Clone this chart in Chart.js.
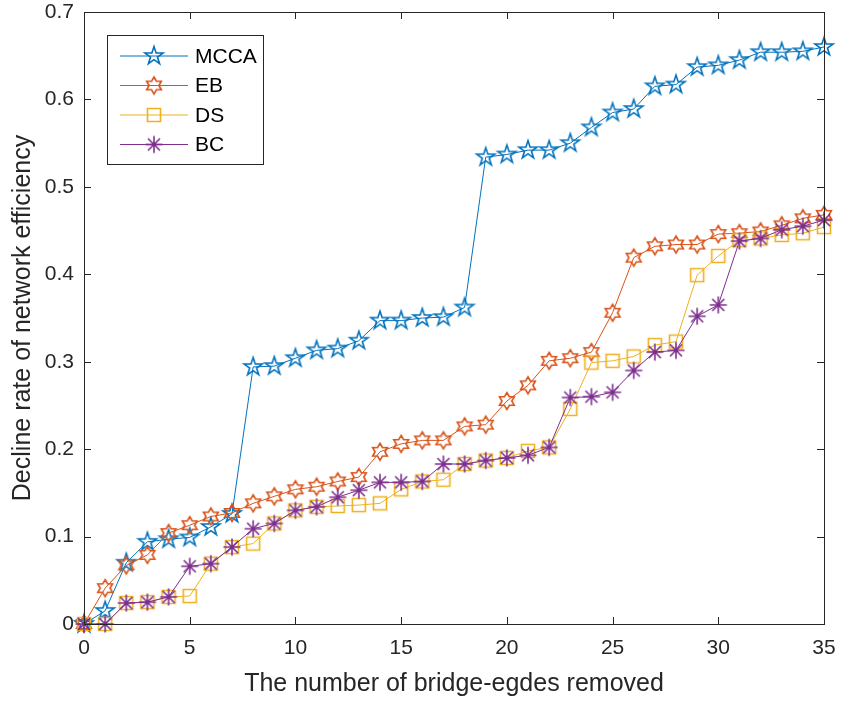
<!DOCTYPE html>
<html>
<head>
<meta charset="utf-8">
<title>Decline rate of network efficiency</title>
<script src="https://cdn.jsdelivr.net/npm/chart.js@4.4.1/dist/chart.umd.min.js"></script>
<style>
    html, body { margin: 0; padding: 0; background: #fff; }
    #wrap { width: 853px; height: 701px; }
</style>
</head>
<body>
<div id="wrap"><canvas id="effChart" width="853" height="701"></canvas></div>
<script>
// Data
const edgesRemoved = [0, 1, 2, 3, 4, 5, 6, 7, 8, 9, 10, 11, 12, 13, 14, 15, 16, 17,
    18, 19, 20, 21, 22, 23, 24, 25, 26, 27, 28, 29, 30, 31, 32, 33, 34, 35];
const mcca = [0, 0.015, 0.070, 0.094, 0.097, 0.099, 0.111, 0.126, 0.294, 0.295, 0.304, 0.313,
    0.315, 0.324, 0.347, 0.347, 0.350, 0.351, 0.362, 0.534, 0.537, 0.542, 0.542, 0.550,
    0.568, 0.585, 0.589, 0.615, 0.617, 0.637, 0.639, 0.645, 0.654, 0.654, 0.655, 0.660];
const eb = [0, 0.041, 0.067, 0.079, 0.104, 0.113, 0.123, 0.127, 0.138, 0.146, 0.154, 0.157,
    0.163, 0.168, 0.197, 0.206, 0.210, 0.210, 0.226, 0.228, 0.255, 0.273, 0.301, 0.304,
    0.311, 0.356, 0.419, 0.432, 0.434, 0.434, 0.446, 0.447, 0.449, 0.456, 0.464, 0.468];
const ds = [0, 0, 0.024, 0.025, 0.031, 0.032, 0.069, 0.088, 0.092, 0.115, 0.130, 0.134,
    0.135, 0.136, 0.138, 0.154, 0.163, 0.165, 0.183, 0.187, 0.190, 0.198, 0.202, 0.246,
    0.299, 0.301, 0.306, 0.319, 0.323, 0.399, 0.421, 0.439, 0.441, 0.445, 0.447, 0.454];
const bc = [0, 0, 0.024, 0.025, 0.031, 0.066, 0.069, 0.088, 0.109, 0.115, 0.130, 0.134,
    0.145, 0.153, 0.162, 0.162, 0.163, 0.183, 0.183, 0.187, 0.190, 0.193, 0.202, 0.259,
    0.260, 0.265, 0.290, 0.311, 0.313, 0.352, 0.365, 0.438, 0.441, 0.451, 0.455, 0.462];
const seriesNames = ['MCCA', 'EB', 'DS', 'BC'];
const xTicks = [0, 5, 10, 15, 20, 25, 30, 35];
const yTicks = [0, 0.1, 0.2, 0.3, 0.4, 0.5, 0.6, 0.7];

const FONT = '"Liberation Sans", Arial, Helvetica, sans-serif';
const AXIS_COLOR = '#262626';

// MATLAB-like marker glyphs drawn on small canvases
function makeMarker(kind, color) {
    const size = 26, m = size / 2;
    const c = document.createElement('canvas');
    c.width = size; c.height = size;
    const ctx = c.getContext('2d');
    ctx.strokeStyle = color;
    ctx.lineWidth = 1.6;
    ctx.lineJoin = 'miter';
    ctx.beginPath();
    if (kind === 'pentagram' || kind === 'hexagram') {
        const pts = kind === 'pentagram' ? 5 : 6;
        const R = kind === 'pentagram' ? 9.5 : 8.5;
        const r = kind === 'pentagram' ? R * 0.382 : R / Math.sqrt(3);
        for (let i = 0; i < pts * 2; i++) {
            const a = -Math.PI / 2 + i * Math.PI / pts;
            const rr = i % 2 === 0 ? R : r;
            const px = m + rr * Math.cos(a), py = m + rr * Math.sin(a);
            if (i === 0) ctx.moveTo(px, py); else ctx.lineTo(px, py);
        }
        ctx.closePath();
    } else if (kind === 'square') {
        ctx.rect(m - 6.5, m - 6.5, 13, 13);
    } else {
        const R = 8.5;
        for (let k = 0; k < 4; k++) {
            const a = k * Math.PI / 4;
            ctx.moveTo(m - R * Math.cos(a), m - R * Math.sin(a));
            ctx.lineTo(m + R * Math.cos(a), m + R * Math.sin(a));
        }
    }
    ctx.stroke();
    return c;
}

const colors = ['#0072BD', '#D95319', '#EDB120', '#7E2F8E'];
const markers = [
    makeMarker('pentagram', colors[0]),
    makeMarker('hexagram', colors[1]),
    makeMarker('square', colors[2]),
    makeMarker('asterisk', colors[3])
];
const values = [mcca, eb, ds, bc];

const datasets = seriesNames.map((name, i) => ({
    label: name,
    data: edgesRemoved.map((x, j) => ({ x: x, y: values[i][j] })),
    borderColor: colors[i],
    backgroundColor: colors[i],
    borderWidth: 1,
    pointStyle: markers[i],
    tension: 0,
    fill: false,
    clip: false,
    order: 3 - i
}));

// Box round the plot with inward ticks, like MATLAB
const boxPlugin = {
    id: 'box',
    afterDatasetsDraw(chart) {
        const { ctx, chartArea: a, scales } = chart;
        ctx.save();
        ctx.strokeStyle = AXIS_COLOR;
        ctx.lineWidth = 1;
        ctx.strokeRect(a.left + 0.5, a.top + 0.5, a.right - a.left, a.bottom - a.top);
        ctx.beginPath();
        const len = 7;
        xTicks.forEach(v => {
            const px = Math.round(scales.x.getPixelForValue(v)) + 0.5;
            ctx.moveTo(px, a.bottom); ctx.lineTo(px, a.bottom - len);
            ctx.moveTo(px, a.top); ctx.lineTo(px, a.top + len);
        });
        yTicks.forEach(v => {
            const py = Math.round(scales.y.getPixelForValue(v)) + 0.5;
            ctx.moveTo(a.left, py); ctx.lineTo(a.left + len, py);
            ctx.moveTo(a.right, py); ctx.lineTo(a.right - len, py);
        });
        ctx.stroke();
        ctx.restore();
    },
    afterDraw(chart) {
        // legend box in the upper left of the plot
        const ctx = chart.ctx;
        const bx = 107, by = 35, bw = 156, bh = 129;
        ctx.save();
        ctx.fillStyle = '#fff';
        ctx.fillRect(bx, by, bw, bh);
        ctx.strokeStyle = AXIS_COLOR;
        ctx.lineWidth = 1;
        ctx.strokeRect(bx + 0.5, by + 0.5, bw, bh);
        ctx.font = '21px ' + FONT;
        ctx.textBaseline = 'middle';
        ctx.fillStyle = '#000';
        seriesNames.forEach((name, i) => {
            const y = by + 21 + i * 29.5;
            ctx.strokeStyle = colors[i];
            ctx.lineWidth = 1;
            ctx.beginPath();
            ctx.moveTo(120, y); ctx.lineTo(188, y);
            ctx.stroke();
            ctx.drawImage(markers[i], 154 - markers[i].width / 2, y - markers[i].height / 2);
            ctx.fillText(name, 195, y + 1);
        });
        ctx.restore();
    }
};

const effCtx = document.getElementById('effChart').getContext('2d');
const effChart = new Chart(effCtx, {
    type: 'line',
    data: { datasets: datasets },
    plugins: [boxPlugin],
    options: {
        responsive: false,
        animation: false,
        events: [],
        layout: {
            padding: { left: 0, right: 29, top: 0, bottom: 0 }
        },
        plugins: {
            legend: { display: false },
            tooltip: { enabled: false }
        },
        scales: {
            x: {
                type: 'linear',
                min: 0,
                max: 35,
                afterFit(scale) { scale.height = 77; },
                afterBuildTicks(scale) { scale.ticks = xTicks.map(v => ({ value: v })); },
                grid: { display: false, drawTicks: false },
                border: { display: false },
                ticks: {
                    color: AXIS_COLOR,
                    padding: 12,
                    maxRotation: 0,
                    font: { family: FONT, size: 21 }
                },
                title: {
                    display: true,
                    text: 'The number of bridge-egdes removed',
                    color: AXIS_COLOR,
                    font: { family: FONT, size: 25 },
                    padding: { top: 0, bottom: 2 }
                }
            },
            y: {
                min: 0,
                max: 0.7,
                afterFit(scale) {
                    scale.width = 84;
                    scale.paddingTop = 12;
                    scale.paddingBottom = 0;
                },
                afterBuildTicks(scale) { scale.ticks = yTicks.map(v => ({ value: v })); },
                grid: { display: false, drawTicks: false },
                border: { display: false },
                ticks: {
                    color: AXIS_COLOR,
                    padding: 10,
                    font: { family: FONT, size: 21 },
                    callback: v => v === 0 ? '0' : v.toFixed(1)
                },
                title: {
                    display: true,
                    text: 'Decline rate of network efficiency',
                    color: AXIS_COLOR,
                    font: { family: FONT, size: 25 },
                    padding: { top: 8, bottom: 0 }
                }
            }
        }
    }
});
</script>
</body>
</html>
